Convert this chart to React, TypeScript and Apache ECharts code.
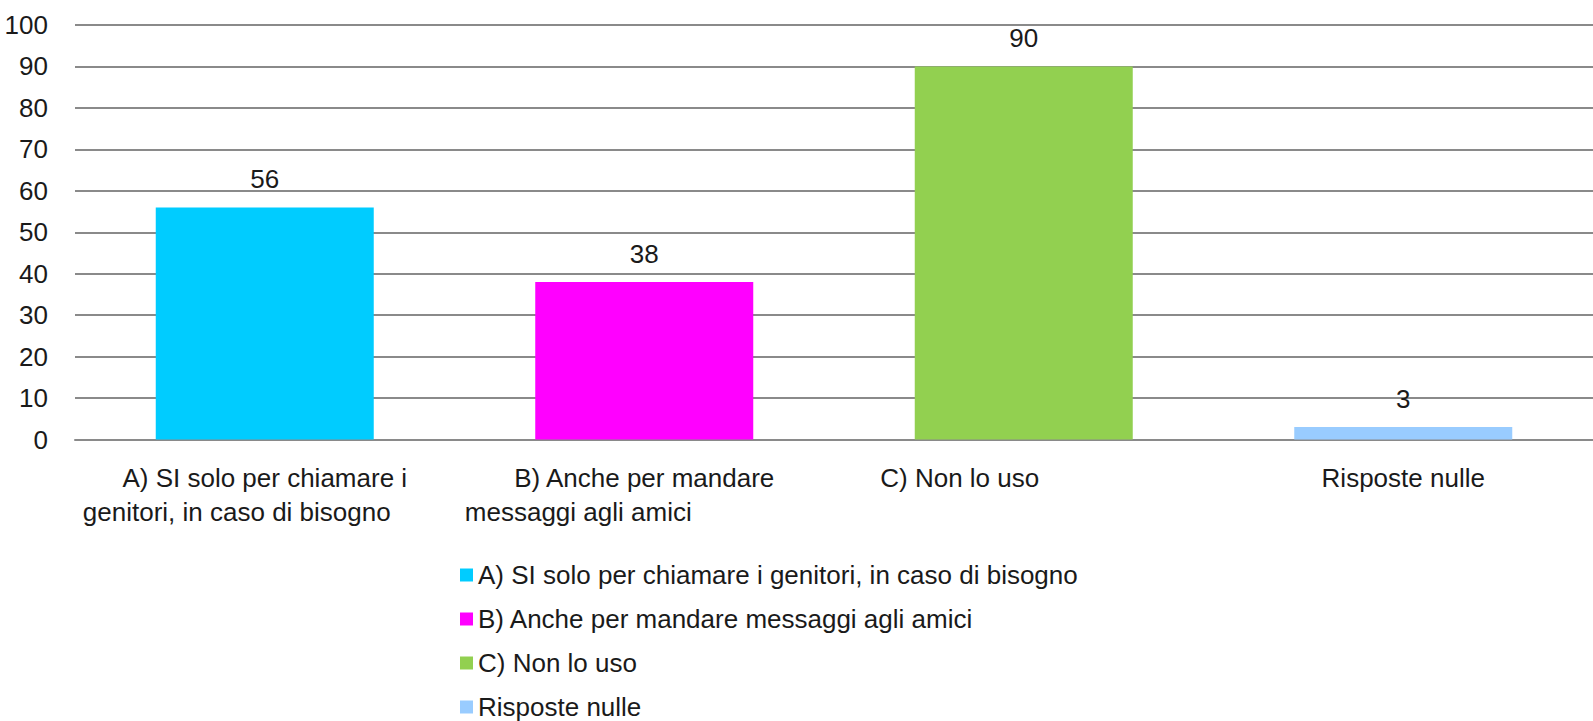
import React, { useEffect, useRef } from "react";
import * as echarts from "echarts";

const categories = [
  "A) SI solo per chiamare i genitori, in caso di bisogno",
  "B) Anche per mandare messaggi agli amici",
  "C) Non lo uso",
  "Risposte nulle",
];
const values = [56, 38, 90, 3];
const colors = ["#00CCFF", "#FF00FF", "#92D050", "#99CCFF"];
// tick label lines as they wrap in the picture
const tickLabelLines = [
  ["A) SI solo per chiamare i", "genitori, in caso di bisogno"],
  ["B) Anche per mandare", "messaggi agli amici"],
  ["C) Non lo uso"],
  ["Risposte nulle"],
];
// horizontal shift (px padding on the right) for each line, style only
const lineShift = [
  [0, 56],
  [0, 132],
  [128],
  [0],
];

const FONT = "'Liberation Sans', Arial, sans-serif";
const FS = 26;
const TEXT = "#1a1a1a";
const GRID = "#8a8a8a";

export default function App() {
  const ref = useRef<HTMLDivElement>(null);
  useEffect(() => {
    if (!ref.current) return;
    const chart = echarts.init(ref.current, null, { renderer: "svg" });

    const rich: Record<string, any> = {};
    tickLabelLines.forEach((lines, i) => {
      lines.forEach((_, j) => {
        rich[`c${i}l${j}`] = {
          fontFamily: FONT,
          fontSize: FS,
          color: TEXT,
          lineHeight: 34,
          padding: [0, lineShift[i][j], 0, 0],
        };
      });
    });

    const series = categories.map((name, i) => ({
      name,
      type: "bar",
      stack: "all",
      barWidth: 218,
      itemStyle: { color: colors[i] },
      label: {
        show: true,
        position: "top",
        distance: 15,
        fontFamily: FONT,
        fontSize: FS,
        color: TEXT,
      },
      data: categories.map((_, k) => (k === i ? values[i] : null)),
    }));

    chart.setOption({
      animation: false,
      backgroundColor: "#ffffff",
      textStyle: { fontFamily: FONT },
      grid: { left: 75, right: 0, top: 25, bottom: 281.5, containLabel: false },
      xAxis: {
        type: "category",
        data: categories,
        axisTick: { show: false },
        axisLine: { show: true, lineStyle: { color: GRID, width: 2 } },
        axisLabel: {
          interval: 0,
          margin: 21,
          formatter: (_v: string, idx: number) =>
            tickLabelLines[idx].map((t, j) => `{c${idx}l${j}|${t}}`).join("\n"),
          rich,
        },
      },
      yAxis: {
        type: "value",
        min: 0,
        max: 100,
        interval: 10,
        axisLine: { show: false },
        axisTick: { show: false },
        axisLabel: {
          margin: 27,
          fontFamily: FONT,
          fontSize: FS,
          color: TEXT,
        },
        splitLine: { show: true, lineStyle: { color: GRID, width: 2 } },
      },
      legend: {
        orient: "vertical",
        left: 455,
        top: 557,
        height: 220,
        itemGap: 18,
        itemWidth: 13,
        itemHeight: 13,
        icon: "rect",
        textStyle: { fontFamily: FONT, fontSize: FS, color: TEXT },
        data: categories,
      },
      series,
    });
    return () => chart.dispose();
  }, []);
  return (
    <div
      ref={ref}
      style={{ position: "fixed", left: 0, top: 0, width: 1593, height: 721 }}
    />
  );
}
